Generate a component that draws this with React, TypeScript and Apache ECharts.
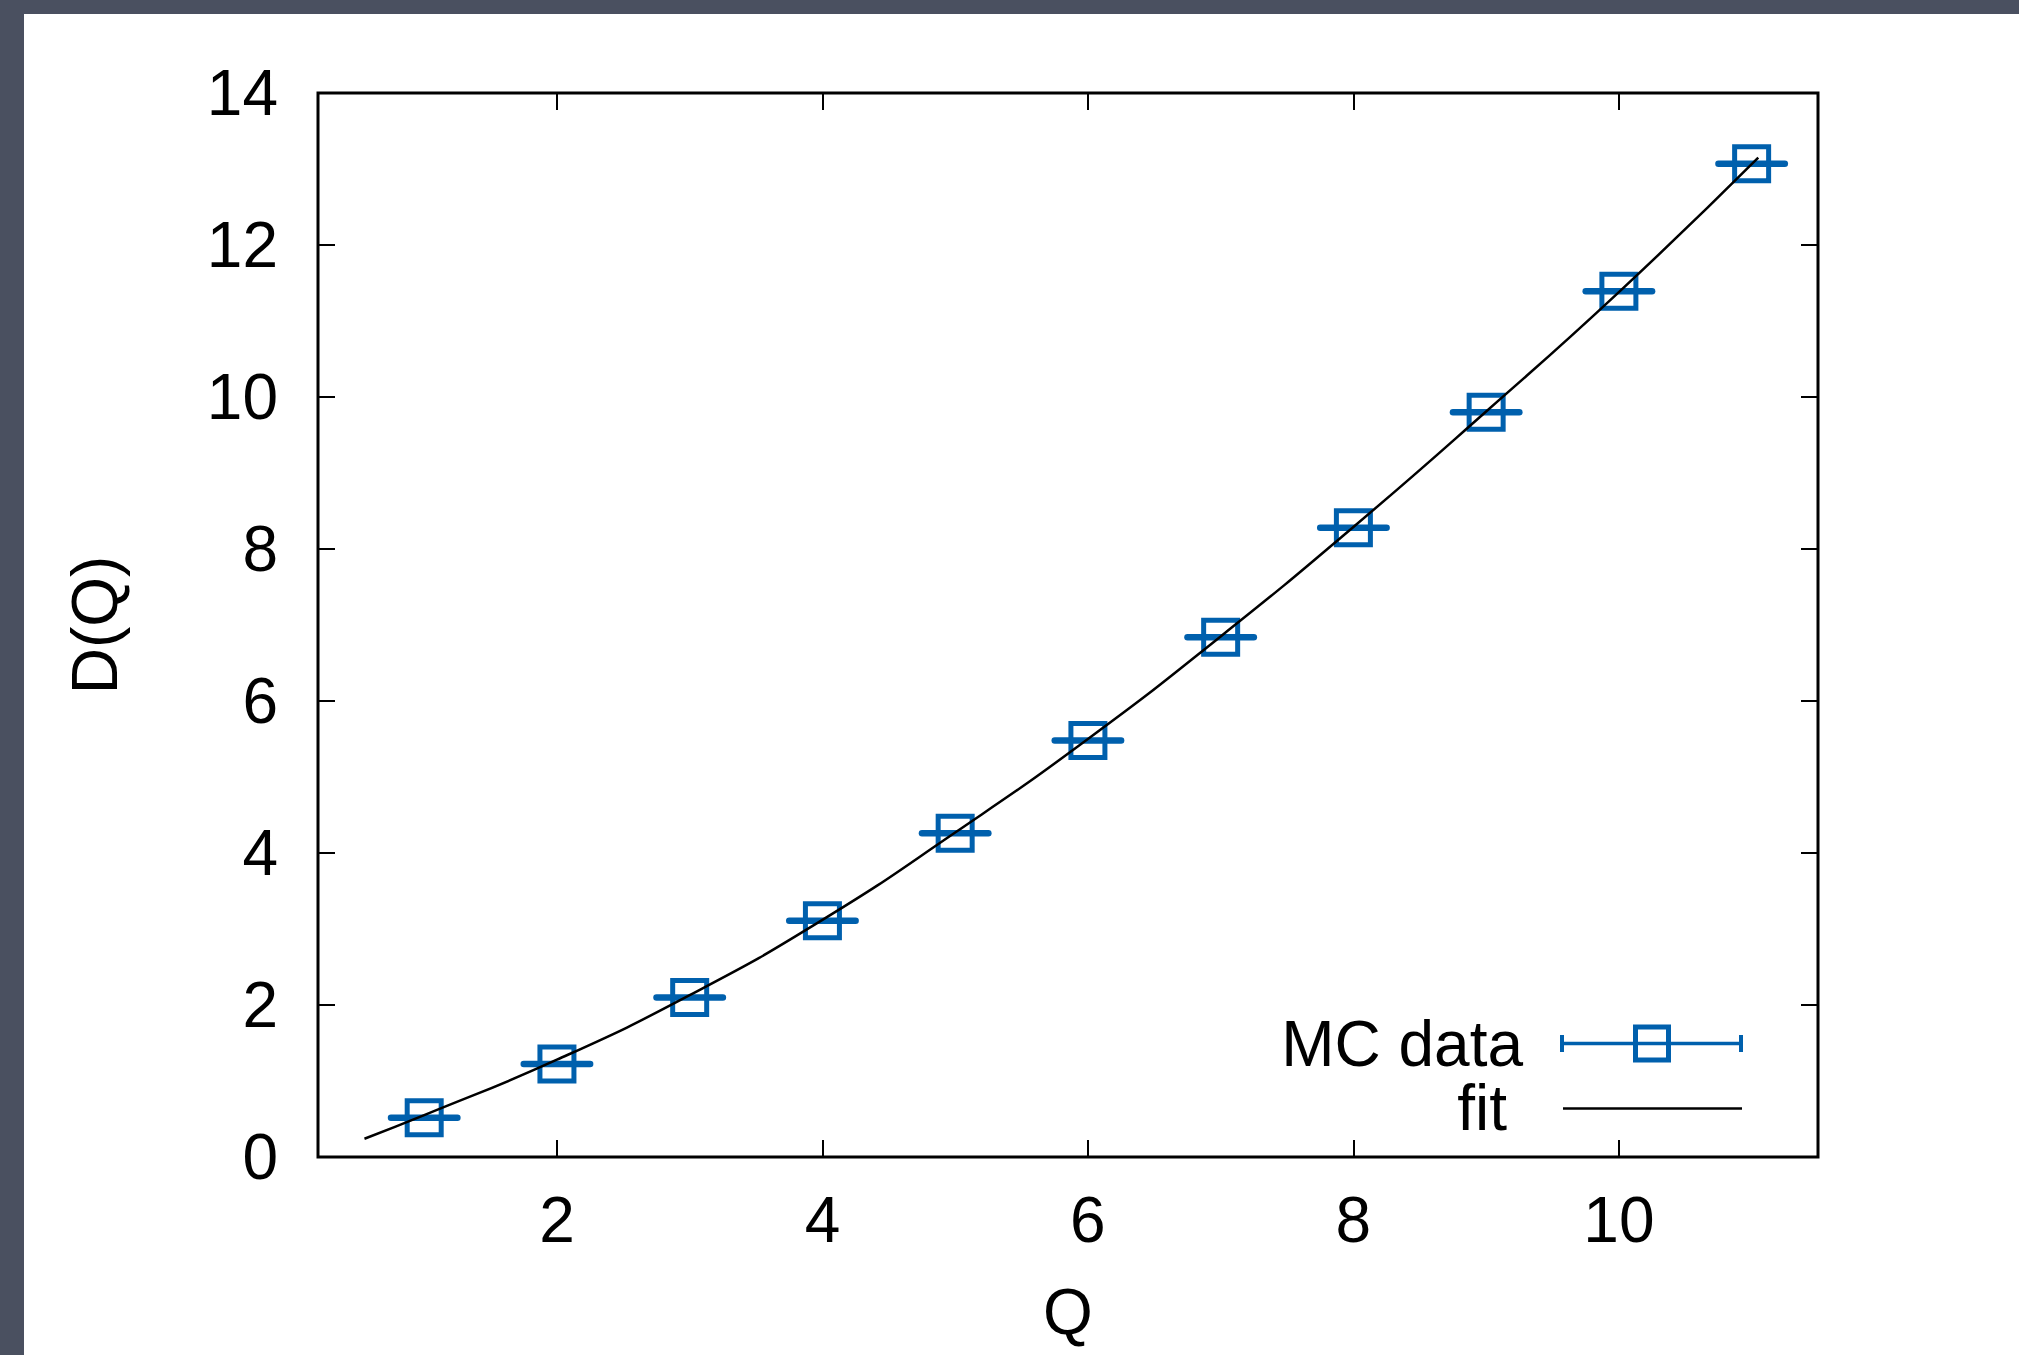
import React, { useEffect, useRef } from "react";
import * as echarts from "echarts";

// ---- data ----
const qValues = [1, 2, 3, 4, 5, 6, 7, 8, 9, 10, 11];
const dValues = [0.517, 1.224, 2.1, 3.11, 4.26, 5.48, 6.84, 8.28, 9.8, 11.39, 13.07];
const qErrors = [0.25, 0.25, 0.25, 0.25, 0.25, 0.25, 0.25, 0.25, 0.25, 0.25, 0.25];

const fitQ = [0.55, 1, 2, 3, 4, 5, 6, 7, 8, 9, 10, 11.05];
const fitD = [0.24, 0.55, 1.28, 2.13, 3.12, 4.27, 5.5, 6.85, 8.29, 9.81, 11.38, 13.15];

const xTicks = [2, 4, 6, 8, 10];
const legendLabels = ["MC data", "fit"];
const xName = "Q";
const yName = "D(Q)";

const BLUE = "#0060ad";
const FONT = "'Liberation Sans', Arial, Helvetica, sans-serif";
const FS = 64;

export default function App() {
  const ref = useRef<HTMLDivElement>(null);

  useEffect(() => {
    if (!ref.current) return;
    const chart = echarts.init(ref.current, undefined, { renderer: "svg" });

    const tickStyle = { color: "#000", width: 2 };
    const labelStyle = { fontSize: FS, fontFamily: FONT, color: "#000" };

    const option: any = {
      animation: false,
      backgroundColor: "transparent",
      grid: {
        left: 318,
        top: 93,
        width: 1500,
        height: 1064,
        show: true,
        borderColor: "#000",
        borderWidth: 3,
        backgroundColor: "transparent",
      },
      xAxis: [
        {
          type: "value",
          min: 0.2,
          max: 11.5,
          position: "bottom",
          axisLine: { show: false, onZero: false },
          splitLine: { show: false },
          axisTick: { show: true, inside: true, length: 17, lineStyle: tickStyle, customValues: xTicks },
          axisLabel: { ...labelStyle, margin: 31, customValues: xTicks },
          name: xName,
          nameLocation: "middle",
          nameGap: 123,
          nameTextStyle: labelStyle,
        },
        {
          type: "value",
          min: 0.2,
          max: 11.5,
          position: "top",
          axisLine: { show: false, onZero: false },
          splitLine: { show: false },
          axisTick: { show: true, inside: true, length: 17, lineStyle: tickStyle, customValues: xTicks },
          axisLabel: { show: false },
        },
      ],
      yAxis: [
        {
          type: "value",
          min: 0,
          max: 14,
          interval: 2,
          position: "left",
          axisLine: { show: false, onZero: false },
          splitLine: { show: false },
          axisTick: { show: true, inside: true, length: 17, lineStyle: tickStyle },
          axisLabel: { ...labelStyle, margin: 40 },
          name: yName,
          nameLocation: "middle",
          nameGap: 191,
          nameRotate: 90,
          nameTextStyle: labelStyle,
        },
        {
          type: "value",
          min: 0,
          max: 14,
          interval: 2,
          position: "right",
          axisLine: { show: false, onZero: false },
          splitLine: { show: false },
          axisTick: { show: true, inside: true, length: 17, lineStyle: tickStyle },
          axisLabel: { show: false },
        },
      ],
      series: [
        {
          type: "custom",
          name: legendLabels[0],
          xAxisIndex: 0,
          yAxisIndex: 0,
          z: 2,
          data: qValues.map((q, i) => [q, dValues[i], qErrors[i]]),
          encode: { x: 0, y: 1 },
          renderItem: (params: any, api: any) => {
            const x = api.value(0);
            const y = api.value(1);
            const e = api.value(2);
            const c = api.coord([x, y]);
            const l = api.coord([x - e, y]);
            const r = api.coord([x + e, y]);
            return {
              type: "group",
              children: [
                {
                  type: "line",
                  shape: { x1: l[0], y1: c[1], x2: r[0], y2: c[1] },
                  style: { stroke: BLUE, lineWidth: 6.5, lineCap: "round" },
                },
                {
                  type: "rect",
                  shape: { x: c[0] - 17, y: c[1] - 17, width: 34, height: 34 },
                  style: { stroke: BLUE, lineWidth: 5, fill: "none" },
                },
              ],
            };
          },
        },
        {
          type: "line",
          name: legendLabels[1],
          xAxisIndex: 0,
          yAxisIndex: 0,
          z: 3,
          data: fitQ.map((q, i) => [q, fitD[i]]),
          showSymbol: false,
          smooth: 0.5,
          lineStyle: { color: "#000", width: 2.5 },
        },
      ],
      graphic: [
        {
          type: "text",
          x: 1523,
          y: 1044,
          style: {
            text: legendLabels[0],
            fontSize: FS,
            fontFamily: FONT,
            lineHeight: 58,
            fill: "#000",
            align: "right",
            verticalAlign: "middle",
          },
        },
        {
          type: "text",
          x: 1507,
          y: 1108,
          style: {
            text: legendLabels[1],
            fontSize: FS,
            fontFamily: FONT,
            lineHeight: 58,
            fill: "#000",
            align: "right",
            verticalAlign: "middle",
          },
        },
        {
          type: "line",
          shape: { x1: 1562, y1: 1043.5, x2: 1741, y2: 1043.5 },
          style: { stroke: BLUE, lineWidth: 3.5 },
        },
        {
          type: "line",
          shape: { x1: 1562, y1: 1035, x2: 1562, y2: 1052 },
          style: { stroke: BLUE, lineWidth: 4 },
        },
        {
          type: "line",
          shape: { x1: 1741, y1: 1035, x2: 1741, y2: 1052 },
          style: { stroke: BLUE, lineWidth: 4 },
        },
        {
          type: "rect",
          shape: { x: 1652 - 16.5, y: 1043.5 - 16.5, width: 33, height: 33 },
          style: { stroke: BLUE, lineWidth: 5, fill: "none" },
        },
        {
          type: "line",
          shape: { x1: 1563, y1: 1108.5, x2: 1742, y2: 1108.5 },
          style: { stroke: "#000", lineWidth: 2.5 },
        },
      ],
    };

    chart.setOption(option);
    return () => chart.dispose();
  }, []);

  return (
    <div
      style={{
        position: "fixed",
        left: 0,
        top: 0,
        width: 2019,
        height: 1355,
        background: "#4a5060",
        overflow: "hidden",
      }}
    >
      <div style={{ position: "absolute", left: 24, top: 14, right: 0, bottom: 0, background: "#ffffff" }} />
      <div ref={ref} style={{ position: "absolute", left: 0, top: 0, width: 2019, height: 1355 }} />
    </div>
  );
}
